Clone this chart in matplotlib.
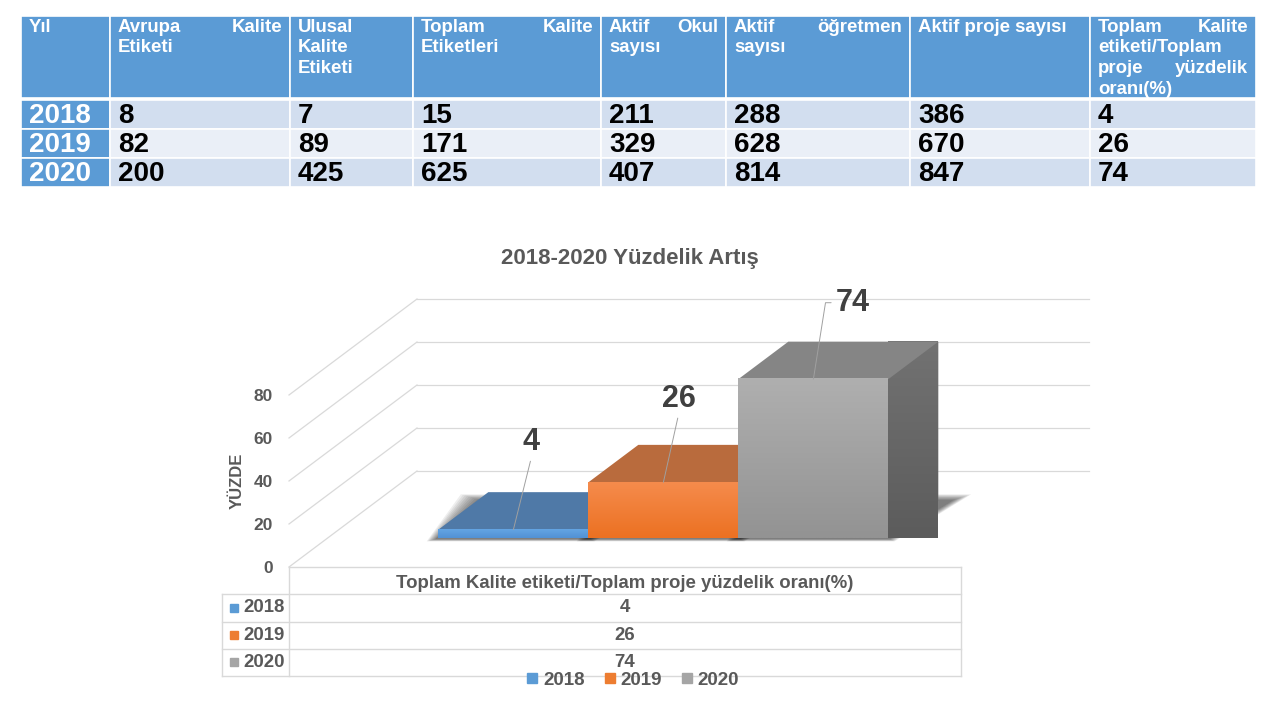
import matplotlib
matplotlib.use("Agg")
import matplotlib.pyplot as plt
import numpy as np
from matplotlib.patches import Rectangle, Polygon
from matplotlib.lines import Line2D
from matplotlib.colors import LinearSegmentedColormap

plt.rcParams['font.family'] = ['Liberation Sans', 'DejaVu Sans']
plt.rcParams['font.weight'] = 'bold'

# ---------------- data ----------------
table_headers = ['Yıl', 'Avrupa Kalite\nEtiketi', 'Ulusal\nKalite\nEtiketi',
                 'Toplam Kalite\nEtiketleri', 'Aktif Okul\nsayısı',
                 'Aktif öğretmen\nsayısı', 'Aktif proje sayısı',
                 'Toplam Kalite\netiketi/Toplam\nproje yüzdelik\noranı(%)']
years = ['2018', '2019', '2020']
avrupa_kalite = [8, 82, 200]
ulusal_kalite = [7, 89, 425]
toplam_kalite = [15, 171, 625]
aktif_okul = [211, 329, 407]
aktif_ogretmen = [288, 628, 814]
aktif_proje = [386, 670, 847]
oran = [4, 26, 74]

chart_title = '2018-2020 Yüzdelik Artış'
category_label = 'Toplam Kalite etiketi/Toplam proje yüzdelik oranı(%)'
series_names = years
series_values = oran
y_ticks = [0, 20, 40, 60, 80]
y_label = 'YÜZDE'

# ---------------- style / layout ----------------
W, H = 1280, 720
def fx(p): return p / W
def fy(p): return 1 - p / H

HEAD_BLUE = '#5B9BD5'
BAND1 = '#D2DEEF'
BAND2 = '#EAEFF7'
TXT_GRAY = '#595959'
GRID = '#D9D9D9'
front_top = ['#63A4E3', '#F58B4C', '#AFAFAF']
front_bot = ['#5292D4', '#EC7122', '#939393']
top_cols = ['#4F79A7', '#B96B3D', '#858585']
side_top = ['#3F6A99', '#A85A2A', '#727272']
side_bot = ['#35597F', '#8E4A22', '#5C5C5C']
key_cols = ['#5B9BD5', '#ED7D31', '#A5A5A5']

fig = plt.figure(figsize=(12.8, 7.2), dpi=100)
fig.patch.set_facecolor('white')

# ---------------- top table ----------------
col_edges = [21, 110, 290, 413, 601, 726, 910, 1090, 1256]
head_top, head_bot = 16, 98
row_edges = [(100, 129), (129, 158), (158, 187)]
ax_t = fig.add_axes([fx(21), fy(187), fx(1256) - fx(21), (187 - 16) / H])
ax_t.set_xlim(21, 1256)
ax_t.set_ylim(187, 16)
ax_t.axis('off')

table_rows = list(zip(years, avrupa_kalite, ulusal_kalite, toplam_kalite,
                      aktif_okul, aktif_ogretmen, aktif_proje, oran))
pad = 8
HFS = 13.4
for c in range(len(col_edges) - 1):
    l, r = col_edges[c], col_edges[c + 1]
    ax_t.add_patch(Rectangle((l, head_top), r - l, head_bot - head_top,
                             facecolor=HEAD_BLUE, edgecolor='white', lw=1.2))
    lines = table_headers[c].split('\n')
    for i, line in enumerate(lines):
        yb = 31.5 + i * 20.8
        words = line.split(' ')
        if i < len(lines) - 1 and len(words) == 2:
            ax_t.text(l + pad, yb, words[0], ha='left', va='baseline',
                      color='white', fontsize=HFS, fontweight='bold')
            ax_t.text(r - pad, yb, words[1], ha='right', va='baseline',
                      color='white', fontsize=HFS, fontweight='bold')
        else:
            ax_t.text(l + pad, yb, line, ha='left', va='baseline',
                      color='white', fontsize=HFS, fontweight='bold')
    for ri, (t0, t1) in enumerate(row_edges):
        fc = HEAD_BLUE if c == 0 else (BAND1 if ri % 2 == 0 else BAND2)
        ax_t.add_patch(Rectangle((l, t0), r - l, t1 - t0,
                                 facecolor=fc, edgecolor='white', lw=1.2))
        val = table_rows[ri][c]
        ax_t.text(l + pad, t1 - 6, str(val), ha='left', va='baseline',
                  color='white' if c == 0 else 'black',
                  fontsize=20, fontweight='bold')

# ---------------- title ----------------
fig.text(fx(630), fy(258), chart_title, ha='center', va='center',
         fontsize=16, fontweight='bold', color=TXT_GRAY)

# ---------------- pseudo-3D chart ----------------
ax = fig.add_axes([fx(289), fy(567), 672 / W, 172 / H])
ax.patch.set_alpha(0)
for s in ax.spines.values():
    s.set_visible(False)
DX, DY = 128 / 672, 44.65        # depth projection (axes units)
F0, F1 = 0.30, 0.69              # bar depth slice
BW = 150 / 672                   # bar width

for v in y_ticks:
    ax.plot([0, DX], [v, v + DY], color=GRID, lw=0.9, zorder=1, clip_on=False)
    ax.plot([DX, 1 + DX], [v + DY, v + DY], color=GRID, lw=0.9, zorder=1, clip_on=False)

n = len(series_values)
x_start = 0.5 - n / 2 * BW
z = 5
ddx, ddy = (F1 - F0) * DX, (F1 - F0) * DY
for i, v in enumerate(series_values):
    x0 = x_start + i * BW + F0 * DX
    x1 = x0 + BW
    yb = F0 * DY
    yt = yb + v
    # soft floor shadow (blurred by stacking translucent layers)
    for k in range(10):
        sh = Polygon([[x0 - 0.004 - 0.0015 * k, yb - 0.4 - 0.12 * k],
                      [x1 + 0.002 + 0.0008 * k, yb - 0.4 - 0.12 * k],
                      [x1 + ddx + 0.022 + 0.003 * k, yb + ddy + 0.3 + 0.3 * k],
                      [x0 + ddx - 0.014 - 0.003 * k, yb + ddy + 0.3 + 0.3 * k]],
                     closed=True, facecolor='black', alpha=0.065, lw=0,
                     zorder=2, clip_on=False)
        ax.add_patch(sh)
    # right side
    side = Polygon([[x1, yb], [x1, yt], [x1 + ddx, yt + ddy], [x1 + ddx, yb + ddy]],
                   closed=True, facecolor=side_top[i], lw=0, zorder=z, clip_on=False)
    ax.add_patch(side)
    cm_s = LinearSegmentedColormap.from_list('s%d' % i, [side_bot[i], side_top[i]])
    im = ax.imshow(np.linspace(0, 1, 64).reshape(-1, 1)[::-1], extent=[x1, x1 + ddx, yb, yt + ddy],
                   cmap=cm_s, aspect='auto', zorder=z, clip_on=False, interpolation='bilinear')
    im.set_clip_path(side)
    # top face
    ax.add_patch(Polygon([[x0, yt], [x1, yt], [x1 + ddx, yt + ddy], [x0 + ddx, yt + ddy]],
                         closed=True, facecolor=top_cols[i], lw=0, zorder=z + 1, clip_on=False))
    # front face with gradient
    front = Rectangle((x0, yb), BW, v, facecolor=front_top[i], lw=0, zorder=z + 2, clip_on=False)
    ax.add_patch(front)
    cm_f = LinearSegmentedColormap.from_list('f%d' % i, [front_bot[i], front_top[i]])
    im2 = ax.imshow(np.linspace(0, 1, 64).reshape(-1, 1)[::-1], extent=[x0, x1, yb, yt],
                    cmap=cm_f, aspect='auto', zorder=z + 2, clip_on=False, interpolation='bilinear')
    im2.set_clip_path(front)
    z += 4

label_offsets = [(13, 63), (11, 60), (28, 55)]
for i, v in enumerate(series_values):
    x0 = x_start + i * BW + F0 * DX
    xy = (x0 + BW / 2, F0 * DY + v)
    if i == n - 1:
        ap = dict(arrowstyle='-', color='#A0A0A0', lw=0.7, shrinkA=1, shrinkB=0,
                  relpos=(0, 0.5), connectionstyle='angle,angleA=0,angleB=81,rad=0')
    else:
        ap = dict(arrowstyle='-', color='#A0A0A0', lw=0.7, shrinkA=1, shrinkB=0,
                  relpos=(0.5, 0))
    ax.annotate(str(v), xy=xy, xytext=label_offsets[i], textcoords='offset points',
                ha='center', va='center', fontsize=22, fontweight='bold',
                color='#404040', arrowprops=ap, zorder=40, annotation_clip=False)

ax.set_xlim(0, 1)
ax.set_ylim(0, 80)
ax.set_xticks([])
ax.set_yticks(y_ticks)
ax.set_yticklabels([str(t) for t in y_ticks], fontsize=12.5, fontweight='bold', color=TXT_GRAY)
ax.tick_params(axis='y', length=0, pad=11.5)
ax.set_ylabel(y_label, fontsize=12, fontweight='bold', color=TXT_GRAY)
ax.yaxis.set_label_coords(-0.0655, 0.5)

# ---------------- data table under chart ----------------
ax_d = fig.add_axes([fx(222), fy(676), (961 - 222) / W, (676 - 567) / H])
ax_d.set_xlim(0, 1)
ax_d.set_ylim(4, 0)
ax_d.axis('off')
KW = 67 / 739
ax_d.plot([KW, 1], [0, 0], color=GRID, lw=1, clip_on=False)
for r in range(1, 5):
    ax_d.plot([0, 1], [r, r], color=GRID, lw=1, clip_on=False)
ax_d.plot([0, 0], [1, 4], color=GRID, lw=1, clip_on=False)
ax_d.plot([KW, KW], [0, 4], color=GRID, lw=1, clip_on=False)
ax_d.plot([1, 1], [0, 4], color=GRID, lw=1, clip_on=False)
xc = (KW + 1) / 2
ax_d.text(xc, 0.62, category_label, ha='center', va='center', fontsize=13.4,
          fontweight='bold', color=TXT_GRAY)
for i, (nm, v) in enumerate(zip(series_names, series_values)):
    yc = 1.5 + i
    ax_d.plot([0.016], [yc], marker='s', ms=6, color=key_cols[i], ls='', clip_on=False)
    ax_d.text(0.029, yc, nm, ha='left', va='center', fontsize=13.4,
              fontweight='bold', color=TXT_GRAY)
    ax_d.text(xc, yc, str(v), ha='center', va='center', fontsize=13.4,
              fontweight='bold', color=TXT_GRAY)

# ---------------- legend ----------------
handles = [Line2D([], [], marker='s', ls='', color=c, ms=7) for c in key_cols]
fig.legend(handles, series_names, loc='center', bbox_to_anchor=(fx(633), fy(680)),
           ncol=3, frameon=False, handlelength=0.6, handletextpad=0.3,
           columnspacing=1.0, prop={'weight': 'bold', 'size': 13.5}, labelcolor=TXT_GRAY,
           borderpad=0)

fig.savefig('out.png', dpi=100)
